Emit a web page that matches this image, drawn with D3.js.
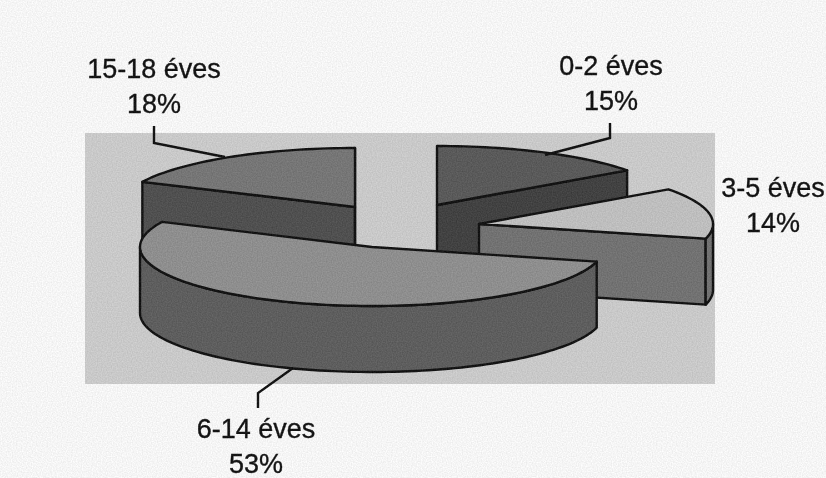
<!DOCTYPE html>
<html>
<head>
<meta charset="utf-8">
<script src="https://cdn.jsdelivr.net/npm/d3@7"></script>
<style>
  html, body { margin: 0; padding: 0; background: #f5f5f5; }
  svg { display: block; }
  text { font-family: "Liberation Sans", Arial, sans-serif; font-size: 27px; fill: #141414; stroke: #141414; stroke-width: 0.35px; }
</style>
</head>
<body>
<div id="chart"></div>
<script>
// values
const categories = ["0-2 éves", "3-5 éves", "6-14 éves", "15-18 éves"];
const shares = [15, 14, 53, 18];

// look of each slice, same order as categories
const topColors = ["#5a5a5a", "#bebebe", "#8e8e8e", "#767676"];
const sideColors = ["#424242", "#727272", "#5e5e5e", "#505050"];
const apexX = [437, 479, 372, 355];
const apexY = [205, 224, 247, 207];
const radiusX = [235, 234, 232, 235];
const labelX = [611, 773, 256, 154];
const labelY = [75, 197, 438, 78];
const leaders = [
  [[610, 123], [610, 138], [545, 155]],
  [],
  [[293, 368], [258, 393], [258, 408]],
  [[154, 126], [154, 143], [225, 157]]
];
// draw order, back slices first
const drawOrder = [3, 0, 1, 2];

const width = 826, height = 478;
const ry = 59, depth = 66;

const svg = d3.select("#chart").append("svg")
  .attr("width", width)
  .attr("height", height);

// scanned paper look: slight blur plus grain
const grain = svg.append("defs").append("filter")
  .attr("id", "scan")
  .attr("filterUnits", "userSpaceOnUse")
  .attr("x", 0).attr("y", 0)
  .attr("width", width).attr("height", height)
  .attr("color-interpolation-filters", "sRGB");
grain.append("feGaussianBlur").attr("in", "SourceGraphic").attr("stdDeviation", 0.45).attr("result", "soft");
grain.append("feTurbulence")
  .attr("type", "fractalNoise")
  .attr("baseFrequency", 0.8)
  .attr("numOctaves", 1)
  .attr("seed", 3)
  .attr("result", "noise");
grain.append("feColorMatrix")
  .attr("in", "noise")
  .attr("type", "matrix")
  .attr("values", "1 0 0 0 0  1 0 0 0 0  1 0 0 0 0  0 0 0 0 1")
  .attr("result", "mono");
grain.append("feComposite")
  .attr("in", "soft").attr("in2", "mono")
  .attr("operator", "arithmetic")
  .attr("k1", 0).attr("k2", 1).attr("k3", 0.14).attr("k4", -0.07);

const root = svg.append("g").attr("filter", "url(#scan)");

root.append("rect")
  .attr("width", width).attr("height", height)
  .attr("fill", "#f5f5f5");

root.append("rect")
  .attr("x", 85).attr("y", 133)
  .attr("width", 630).attr("height", 251)
  .attr("fill", "#c9c9c9");

const pie = d3.pie().sort(null);
const slices = pie(shares);
const line = d3.line();

function rimPoint(i, angle, drop) {
  return [apexX[i] + radiusX[i] * Math.sin(angle), apexY[i] - ry * Math.cos(angle) + drop];
}

function arcPoints(i, a0, a1, drop) {
  const n = Math.max(2, Math.ceil((a1 - a0) / 0.03));
  return d3.range(n + 1).map(k => rimPoint(i, a0 + (a1 - a0) * k / n, drop));
}

const outline = sel => sel
  .attr("stroke", "#141414")
  .attr("stroke-width", 2.4)
  .attr("stroke-linejoin", "round");

drawOrder.forEach(i => {
  const d = slices[i];
  const g = root.append("g").attr("class", "slice");
  const a0 = d.startAngle, a1 = d.endAngle;
  const apex = [apexX[i], apexY[i]];
  const apexLow = [apexX[i], apexY[i] + depth];

  // cut faces that look toward the viewer
  [a0, a1].forEach(a => {
    const facing = a === a0 ? Math.cos(a) > 0 && Math.sin(a) < 0 : Math.sin(a) > 0;
    if (!facing) return;
    const p = rimPoint(i, a, 0), q = rimPoint(i, a, depth);
    g.append("path")
      .attr("d", line([apex, p, q, apexLow]) + "Z")
      .attr("fill", sideColors[i])
      .call(outline);
  });

  // outer wall, only the front half of the ellipse shows
  const w0 = Math.max(a0, Math.PI / 2), w1 = Math.min(a1, Math.PI * 1.5);
  if (w1 > w0) {
    g.append("path")
      .attr("d", line(arcPoints(i, w0, w1, 0).concat(arcPoints(i, w0, w1, depth).reverse())) + "Z")
      .attr("fill", sideColors[i])
      .call(outline);
  }

  g.append("path")
    .attr("d", line([apex].concat(arcPoints(i, a0, a1, 0))) + "Z")
    .attr("fill", topColors[i])
    .call(outline);
});

leaders.filter(l => l.length).forEach(l => {
  root.append("path")
    .attr("d", line(l))
    .attr("fill", "none")
    .attr("stroke", "#141414")
    .attr("stroke-width", 2.4);
});

categories.forEach((c, i) => {
  const t = root.append("text").attr("text-anchor", "middle");
  t.append("tspan").attr("x", labelX[i]).attr("y", labelY[i]).text(c);
  t.append("tspan").attr("x", labelX[i]).attr("y", labelY[i] + 35).text(shares[i] + "%");
});
</script>
</body>
</html>
